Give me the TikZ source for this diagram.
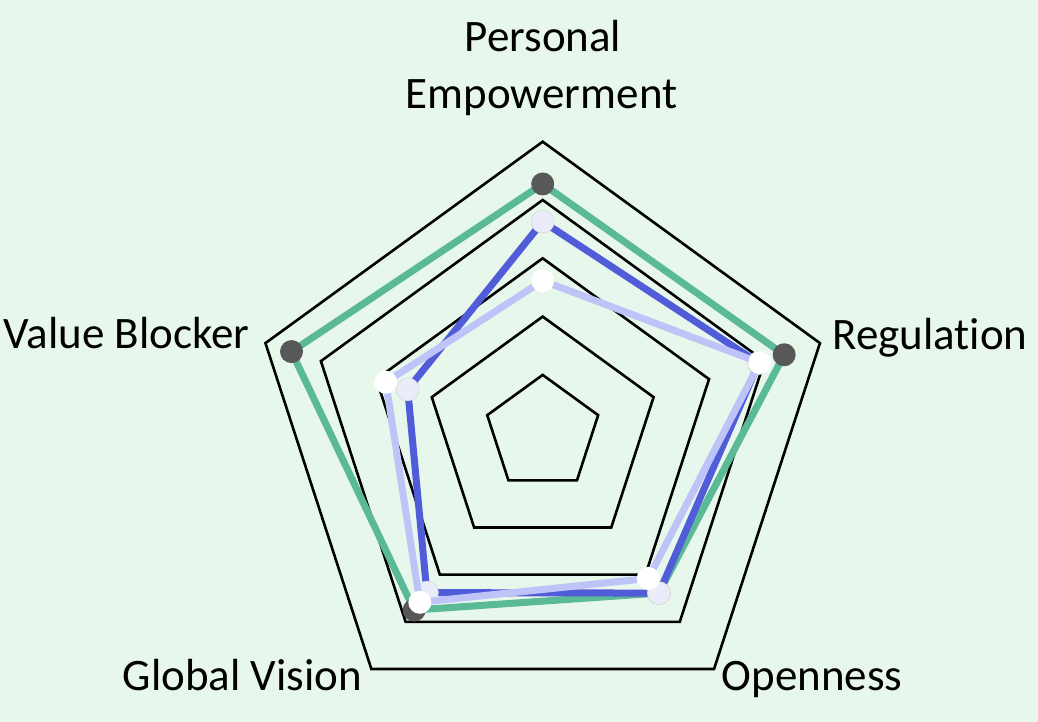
\documentclass[tikz,border=0pt]{standalone}
\usepackage{fontspec}
\setmainfont[Ligatures=NoCommon]{Carlito}
\definecolor{bgc}{RGB}{232,247,236}
\definecolor{gcol}{RGB}{90,185,150}
\definecolor{bcol}{RGB}{80,92,216}
\definecolor{lcol}{RGB}{190,195,248}
\definecolor{darkdot}{RGB}{88,88,88}
\definecolor{lavdot}{RGB}{235,236,250}
\begin{document}
\begin{tikzpicture}[x=1pt,y=1pt,
  ring/.style={draw=black,line width=2.6pt,line join=miter},
  gline/.style={draw=gcol,line width=7pt,line join=round},
  bline/.style={draw=bcol,line width=7pt,line join=round},
  lline/.style={draw=lcol,line width=7pt,line join=round},
  gdot/.style={circle,fill=darkdot,minimum size=23pt,inner sep=0pt},
  bdot/.style={circle,fill=lavdot,draw=black!15,line width=0.6pt,minimum size=23pt,inner sep=0pt},
  ldot/.style={circle,fill=white,minimum size=23pt,inner sep=0pt},
  lab/.style={font=\fontsize{45}{56}\selectfont,inner sep=0pt,text=black}]
\fill[bgc] (-542.7,-288.8) rectangle (495.3,433.2);
\useasboundingbox (-542.7,-288.8) rectangle (495.3,433.2);
% grid rings
\foreach \k in {1,...,5}
  \draw[ring] (90:{\k*58.3}) -- (18:{\k*58.3}) -- (-54:{\k*58.3}) -- (-126:{\k*58.3}) -- (162:{\k*58.3}) -- cycle;
% data coordinates
\foreach \n/\a/\v in {1/90/0.855, 2/18/0.871, 3/-54/0.678, 4/-126/0.750, 5/162/0.906}
  \coordinate (g\n) at (\a:{\v*291.5});
\foreach \n/\a/\v in {1/90/0.726, 2/18/0.779, 3/-54/0.678, 4/-126/0.676, 5/162/0.487}
  \coordinate (b\n) at (\a:{\v*291.5});
\foreach \n/\a/\v in {1/90/0.523, 2/18/0.783, 3/-54/0.616, 4/-126/0.717, 5/162/0.566}
  \coordinate (l\n) at (\a:{\v*291.5});
% green series
\draw[gline] (g1) -- (g2) -- (g3) -- (g4) -- (g5) -- cycle;
\foreach \n in {1,...,5} \node[gdot] (gd\n) at (g\n) {};
% blue series
\draw[bline] (b1) -- (b2) -- (b3) -- (b4) -- (b5) -- cycle;
\foreach \n in {1,...,5} \node[bdot] (bd\n) at (b\n) {};
% light series
\draw[lline] (l1) -- (l2) -- (l3) -- (l4) -- (l5) -- cycle;
\foreach \n in {1,...,5} \node[ldot] (ld\n) at (l\n) {};
% labels
\node[lab,anchor=base] (pe1) at (0.3,381.5) {Personal};
\node[lab,anchor=base] (pe2) at (-1.2,324.9) {Empowerment};
\node[lab,anchor=base west] (reg) at (289.5,83.9) {Regulation};
\node[lab,anchor=base west] (vb) at (-539,84.9) {Value Blocker};
\node[lab,anchor=base east] (gv) at (-180.5,-256.8) {Global Vision};
\node[lab,anchor=base west] (op) at (179,-256.8) {Openness};
\end{tikzpicture}
\end{document}
